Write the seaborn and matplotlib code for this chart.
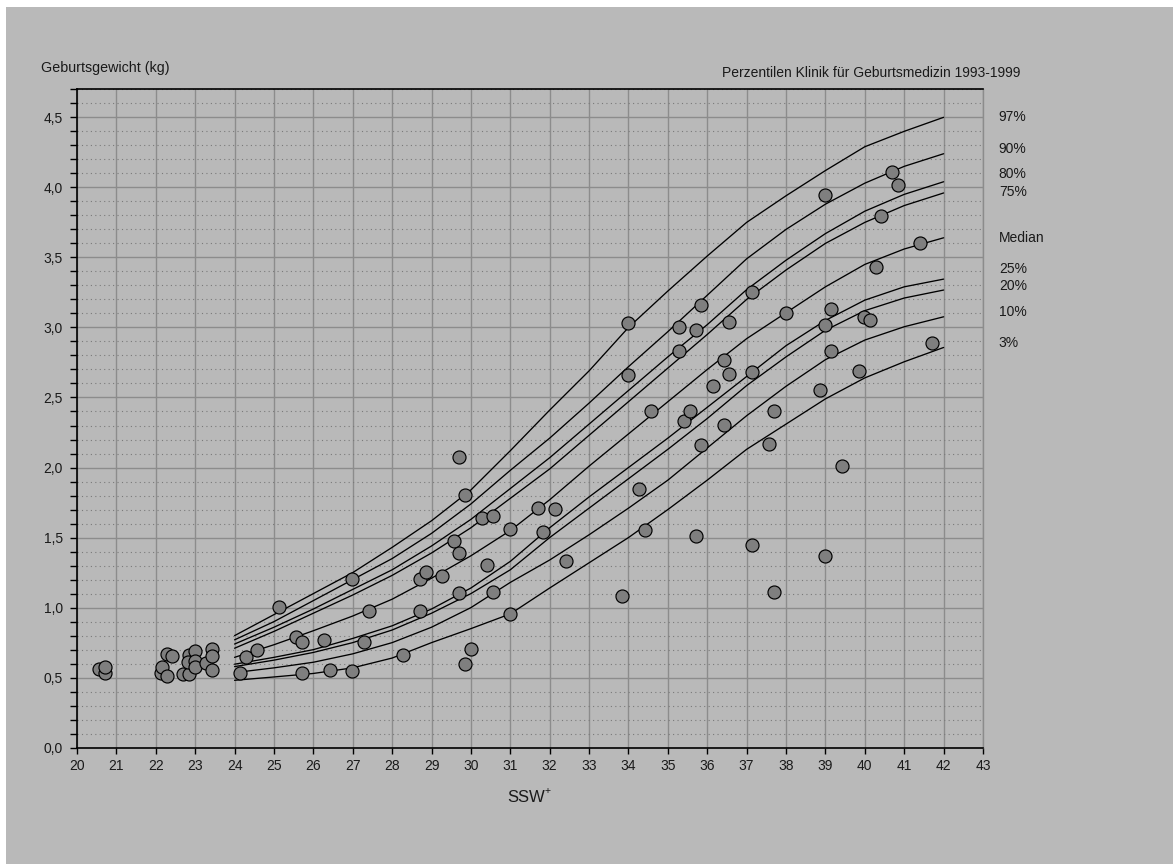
import matplotlib
matplotlib.use("Agg")
import matplotlib.pyplot as plt
import numpy as np
import pandas as pd
import seaborn as sns
from matplotlib.ticker import MultipleLocator, FuncFormatter
from matplotlib.patches import Rectangle

# ---------------- data ----------------
curve_weeks = list(range(24, 43))
p97 = [0.80, 0.95, 1.10, 1.25, 1.43, 1.62, 1.84, 2.12, 2.41, 2.69, 3.00, 3.26, 3.51, 3.75, 3.94, 4.12, 4.29, 4.40, 4.50]
p90 = [0.77, 0.90, 1.05, 1.20, 1.35, 1.53, 1.74, 1.98, 2.21, 2.46, 2.72, 2.97, 3.23, 3.49, 3.70, 3.88, 4.03, 4.15, 4.24]
p80 = [0.74, 0.86, 0.99, 1.13, 1.27, 1.44, 1.63, 1.85, 2.07, 2.31, 2.55, 2.79, 3.02, 3.27, 3.48, 3.67, 3.83, 3.95, 4.04]
p75 = [0.71, 0.83, 0.96, 1.09, 1.23, 1.39, 1.57, 1.78, 1.99, 2.23, 2.47, 2.71, 2.95, 3.20, 3.41, 3.60, 3.75, 3.87, 3.96]
p50 = [0.645, 0.735, 0.835, 0.94, 1.06, 1.21, 1.37, 1.55, 1.77, 2.01, 2.24, 2.47, 2.70, 2.92, 3.105, 3.29, 3.45, 3.56, 3.64]
p25 = [0.596, 0.645, 0.70, 0.78, 0.87, 0.99, 1.14, 1.33, 1.57, 1.79, 2.00, 2.21, 2.43, 2.65, 2.87, 3.05, 3.195, 3.29, 3.345]
p20 = [0.579, 0.625, 0.68, 0.75, 0.84, 0.96, 1.10, 1.27, 1.50, 1.71, 1.92, 2.13, 2.35, 2.585, 2.79, 2.98, 3.12, 3.21, 3.267]
p10 = [0.536, 0.57, 0.61, 0.67, 0.75, 0.86, 1.00, 1.18, 1.34, 1.52, 1.71, 1.91, 2.14, 2.37, 2.58, 2.77, 2.91, 3.005, 3.076]
p03 = [0.481, 0.505, 0.53, 0.57, 0.64, 0.75, 0.85, 0.955, 1.14, 1.32, 1.50, 1.70, 1.91, 2.13, 2.31, 2.49, 2.64, 2.755, 2.857]

curve_labels = ["97%", "90%", "80%", "75%", "Median", "25%", "20%", "10%", "3%"]
curve_values = [p97, p90, p80, p75, p50, p25, p20, p10, p03]
label_y = [4.50, 4.276, 4.098, 3.967, 3.64, 3.419, 3.295, 3.11, 2.886]

pt_week = [20.55, 20.71, 20.71,
           22.13, 22.15, 22.28, 22.28, 22.42, 22.69, 22.84, 22.84, 22.83, 23.0, 23.0, 23.0, 23.27, 23.43, 23.43, 23.43,
           24.14, 24.28, 24.57, 25.13, 25.56, 25.71, 25.71, 26.28, 26.42, 26.99, 26.99, 27.28, 27.42,
           28.27, 28.71, 28.71, 28.85, 29.27, 29.56, 29.70, 29.70, 29.85, 29.70, 29.85, 29.99, 30.28, 30.56, 30.42,
           30.56, 30.99, 30.99, 31.70, 31.84, 32.13, 32.41,
           33.84, 33.99, 33.99, 34.27, 34.42, 34.56, 35.28, 35.28, 35.42, 35.56, 35.71, 35.71, 35.85, 35.85,
           36.14, 36.42, 36.42, 36.56, 36.56, 37.14, 37.14, 37.14, 37.56, 37.70, 37.70, 37.99,
           38.85, 38.99, 38.99, 38.99, 39.14, 39.14, 39.42, 39.85, 39.99, 40.14, 40.28, 40.41, 40.69, 40.84,
           41.41, 41.70]
pt_weight = [0.564, 0.534, 0.574,
             0.536, 0.576, 0.514, 0.671, 0.655, 0.524, 0.664, 0.524, 0.614, 0.693, 0.617, 0.576, 0.605, 0.703, 0.655, 0.555,
             0.536, 0.646, 0.694, 1.002, 0.793, 0.755, 0.535, 0.767, 0.555, 1.205, 0.544, 0.755, 0.976,
             0.664, 1.204, 0.975, 1.252, 1.224, 1.473, 1.392, 2.074, 1.803, 1.106, 0.595, 0.705, 1.643, 1.653, 1.303,
             1.108, 1.564, 0.954, 1.713, 1.542, 1.704, 1.334,
             1.081, 3.029, 2.660, 1.850, 1.552, 2.400, 3.000, 2.831, 2.329, 2.400, 2.979, 1.510, 3.162, 2.160,
             2.581, 2.771, 2.302, 3.040, 2.671, 3.25, 2.681, 1.45, 2.171, 2.40, 1.112, 3.10,
             2.555, 3.943, 3.021, 1.371, 3.131, 2.831, 2.010, 2.692, 3.073, 3.051, 3.430, 3.793, 4.112, 4.014,
             3.603, 2.892]

x_ticks = list(range(20, 44))

# ---------------- style ----------------
sns.set_theme(style="white")
plt.rcParams["font.family"] = ["Liberation Sans", "DejaVu Sans"]

BG = "#b9b9b9"
GRID = "#8c8c8c"
W, H = 1173, 864

fig = plt.figure(figsize=(W / 100, H / 100), dpi=100, facecolor="white")
fig.patches.append(Rectangle((6 / W, 0), 1, (H - 7) / H, transform=fig.transFigure,
                             facecolor=BG, edgecolor="none", zorder=-10))
ax = fig.add_axes([77 / W, 1 - 747.7 / H, (983 - 77) / W, (747.7 - 89.3) / H])
ax.set_facecolor(BG)

curves = pd.DataFrame({
    "week": np.tile(curve_weeks, len(curve_labels)),
    "weight": np.concatenate(curve_values),
    "pct": np.repeat(curve_labels, len(curve_weeks)),
})
sns.lineplot(data=curves, x="week", y="weight", units="pct", estimator=None,
             color="black", lw=0.95, ax=ax, zorder=2)

sns.scatterplot(x=pt_week, y=pt_weight, s=88, color="#7f7f7f", edgecolor="black",
                linewidth=0.85, ax=ax, zorder=3)

ax.set_xlim(20, 43)
ax.set_ylim(0, 4.7)
ax.set_xticks(x_ticks)
ax.yaxis.set_major_locator(MultipleLocator(0.5))
ax.yaxis.set_minor_locator(MultipleLocator(0.1))
ax.yaxis.set_major_formatter(FuncFormatter(lambda v, p: f"{v:.1f}".replace(".", ",")))
ax.set_axisbelow(True)
ax.grid(which="major", color=GRID, lw=1.0, ls="-")
ax.grid(which="minor", axis="y", color="#7a7a7a", lw=0.8, ls=(0, (1, 3)))
ax.set_xlabel("")
ax.set_ylabel("")

for s in ["top", "left", "bottom"]:
    ax.spines[s].set_color("black")
    ax.spines[s].set_linewidth(1.2)
ax.spines["right"].set_color(GRID)
ax.spines["right"].set_linewidth(1.0)

ax.tick_params(axis="x", which="major", direction="out", length=4, width=1, color="black",
               labelsize=10, labelcolor="#1a1a1a", pad=4, bottom=True)
ax.tick_params(axis="y", which="both", direction="out", length=5, width=1, color="black",
               labelsize=10, labelcolor="#1a1a1a", pad=5, left=True)

for lab, yv in zip(curve_labels, label_y):
    ax.text(43.4, yv, lab, ha="left", va="center", fontsize=10, color="#1a1a1a", clip_on=False)

fig.text(41 / W, 1 - 68.3 / H, "Geburtsgewicht (kg)", ha="left", va="center", fontsize=10.3, color="#1a1a1a")
fig.text(1020.7 / W, 1 - 73.3 / H, "Perzentilen Klinik für Geburtsmedizin 1993-1999",
         ha="right", va="center", fontsize=10, color="#1a1a1a")
fig.text(507 / W, 1 - 798 / H, "SSW", ha="left", va="center", fontsize=12, color="#1a1a1a")
fig.text(545 / W, 1 - 791 / H, "+", ha="left", va="center", fontsize=7.5, color="#1a1a1a")

fig.savefig("out.png", dpi=100, facecolor=fig.get_facecolor())
